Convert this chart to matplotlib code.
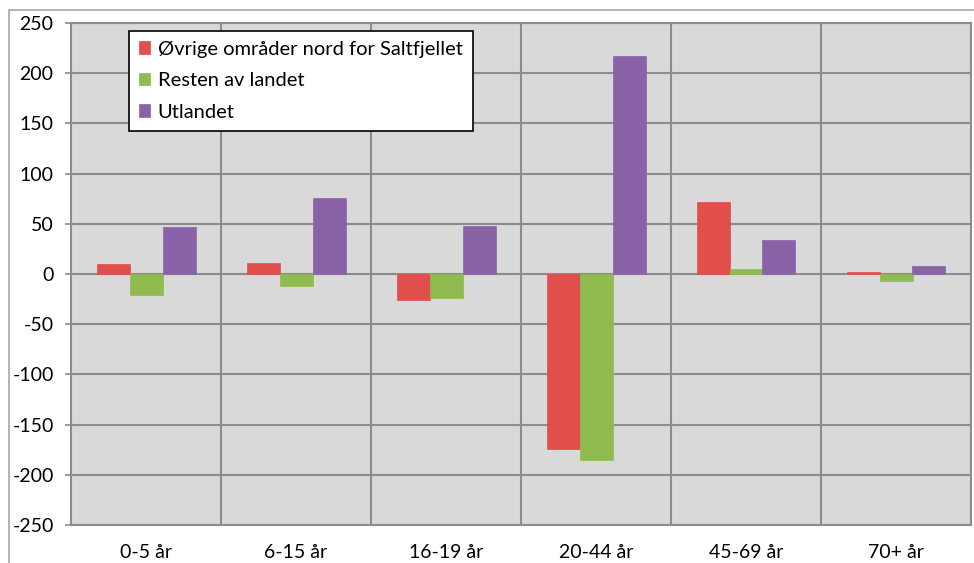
import numpy as np
import matplotlib.pyplot as plt
from matplotlib.patches import Rectangle

categories = ["0-5 år", "6-15 år", "16-19 år", "20-44 år", "45-69 år", "70+ år"]
series_names = ["Øvrige områder nord for Saltfjellet", "Resten av landet", "Utlandet"]
ovrige = [10, 11, -26, -174, 72, 2]
resten = [-21, -12, -24, -185, 5, -7]
utlandet = [47, 76, 48, 217, 34, 8]
colors = ["#e04f4b", "#8fbb4f", "#8a62a8"]
yticks = list(range(-250, 251, 50))

plt.rcParams["font.family"] = ["Lato", "DejaVu Sans"]

fig = plt.figure(figsize=(9.74, 5.63), dpi=100)
# outer chart border
fig.patches.append(Rectangle((9 / 974, -0.1), 1.0, 1 - 10 / 563 + 0.1,
                             transform=fig.transFigure, fill=False,
                             edgecolor="#a6a6a6", linewidth=1.2))

ax = fig.add_axes([71 / 974, 38 / 563, 900 / 974, 502 / 563])
ax.set_facecolor("#d9d9d9")

x = np.arange(len(categories))
w = 0.22
for i, (vals, name) in enumerate(zip([ovrige, resten, utlandet], series_names)):
    ax.bar(x + (i - 1) * w, vals, w, color=colors[i], label=name,
           edgecolor=colors[i], linewidth=0.5, zorder=3)

ax.set_xlim(-0.5, len(categories) - 0.5)
ax.set_ylim(-250, 250)
ax.set_yticks(yticks)
ax.set_yticklabels([str(v) for v in yticks], fontsize=14)
ax.set_xticks(x)
ax.set_xticklabels(categories, fontsize=14)
ax.tick_params(axis="x", length=0, pad=14)
ax.tick_params(axis="y", length=4.5, width=1.2, color="#8c8c8c", pad=8)

for v in yticks:
    ax.axhline(v, color="#8c8c8c", linewidth=1.5, zorder=1)
for b in np.arange(0.5, len(categories) - 0.5, 1):
    ax.axvline(b, color="#8c8c8c", linewidth=1.5, zorder=1)

for side in ["left", "right", "top", "bottom"]:
    ax.spines[side].set_color("#8c8c8c")
    ax.spines[side].set_linewidth(1.5)

leg = ax.legend(loc="upper left", bbox_to_anchor=(0.064, 0.985), fontsize=14.5,
                frameon=True, fancybox=False, edgecolor="black",
                handlelength=0.55, handleheight=0.55, handletextpad=0.4,
                labelspacing=0.72, borderpad=0.5, borderaxespad=0)
leg.get_frame().set_linewidth(1.2)
leg.get_frame().set_alpha(1)

fig.savefig("out.png", dpi=100)
